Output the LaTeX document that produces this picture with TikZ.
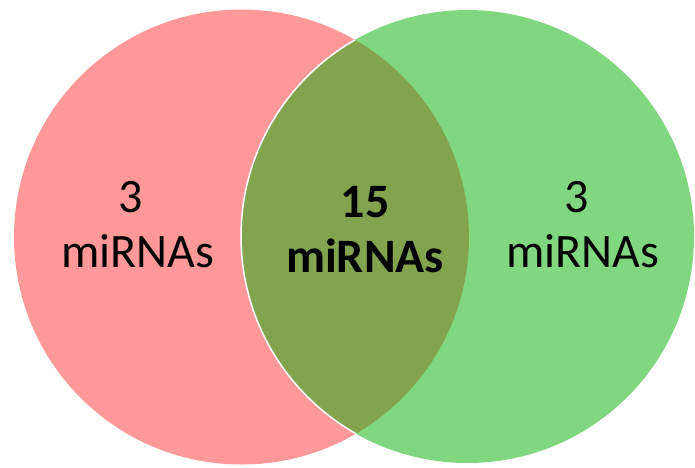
\documentclass[tikz,border=0pt]{standalone}
\usepackage{fontspec}
\setmainfont{Carlito}
\definecolor{pinkfill}{RGB}{255,153,153}
\definecolor{greenfill}{RGB}{128,215,128}
\definecolor{olivefill}{RGB}{130,164,79}
\begin{document}
\begin{tikzpicture}[x=1pt,y=-1pt,
  lbl/.style={inner sep=0pt,anchor=base,font=\fontsize{48}{55}\selectfont,text=black},
  blbl/.style={lbl,font=\fontsize{48}{55}\selectfont\bfseries}]
\useasboundingbox (0,0) rectangle (695,467);
\coordinate (cl) at (241.5,237);
\coordinate (cr) at (467.5,236.5);
\fill[pinkfill] (cl) circle[radius=227.5];
\fill[greenfill] (cr) circle[radius=226.5];
\begin{scope}
  \clip (cl) circle[radius=227.5];
  \fill[olivefill] (cr) circle[radius=226.5];
  \draw[white,line width=1.5pt] (cr) circle[radius=226.5];
\end{scope}
\node[lbl] (l1) at (131,212) {3};
\node[lbl] (l2) at (137.5,267) {miRNAs};
\node[blbl] (c1) at (365,217) {15};
\node[blbl] (c2) at (365,272) {miRNAs};
\node[lbl] (r1) at (577,212) {3};
\node[lbl] (r2) at (582.5,267) {miRNAs};
\end{tikzpicture}
\end{document}
